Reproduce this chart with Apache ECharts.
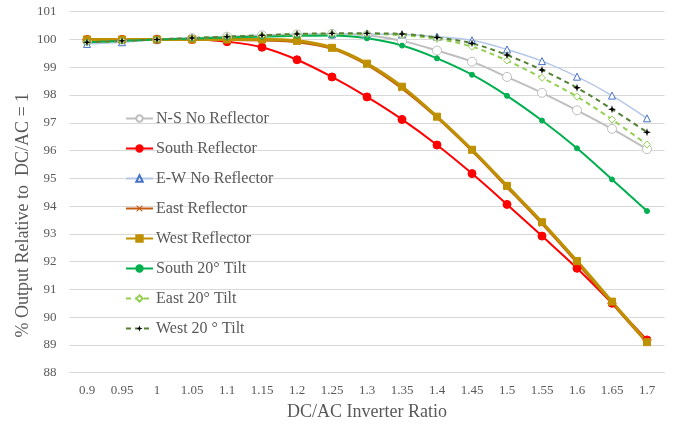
<!DOCTYPE html>
<html><head><meta charset="utf-8">
<script src="https://cdn.jsdelivr.net/npm/echarts@6/dist/echarts.min.js"></script>
<style>html,body{margin:0;padding:0;background:#fff}#c{width:676px;height:428px}</style>
</head><body><div id="c"></div>
<script>
var categories = ['0.9','0.95','1','1.05','1.1','1.15','1.2','1.25','1.3','1.35','1.4','1.45','1.5','1.55','1.6','1.65','1.7'];
var nsNoReflector   = [99.95,99.98,100,100.05,100.1,100.15,100.18,100.2,100.15,99.95,99.6,99.2,98.65,98.08,97.45,96.78,96.05];
var southReflector  = [100.0,100.0,100,100.0,99.92,99.72,99.27,98.65,97.93,97.12,96.2,95.17,94.06,92.92,91.76,90.5,89.18];
var ewNoReflector   = [99.84,99.9,100,100.05,100.08,100.12,100.15,100.18,100.2,100.18,100.1,99.97,99.64,99.22,98.66,97.98,97.16];
var eastReflector   = [100.0,100.0,100,100.0,100.0,99.98,99.92,99.68,99.1,98.25,97.2,96.0,94.7,93.38,91.98,90.52,89.1];
var westReflector   = [100.0,100.0,100,100.0,100.0,100.0,99.95,99.7,99.13,98.3,97.22,96.03,94.73,93.42,92.02,90.56,89.1];
var south20Tilt     = [99.9,99.95,100,100.03,100.07,100.1,100.13,100.14,100.04,99.78,99.32,98.73,97.97,97.08,96.08,94.96,93.82];
var east20Tilt      = [99.9,99.95,100,100.05,100.1,100.14,100.18,100.2,100.2,100.15,100.02,99.74,99.24,98.62,97.94,97.12,96.22];
var west20Tilt      = [99.9,99.95,100,100.05,100.1,100.15,100.2,100.22,100.22,100.2,100.07,99.86,99.44,98.9,98.26,97.49,96.66];
var yMin = 88, yMax = 101, yStep = 1;

var FONT = '"Liberation Serif", "DejaVu Serif", serif';
var TXT = '#595959';
var crossPath = 'path://M1,0 L5,4 L9,0 L10,1 L6,5 L10,9 L9,10 L5,6 L1,10 L0,9 L4,5 L0,1 Z';
var starPath = 'path://M5,0 L6.2,3.8 L10,5 L6.2,6.2 L5,10 L3.8,6.2 L0,5 L3.8,3.8 Z';

function mk(name, data, color, width, symbol, size, opts) {
  opts = opts || {};
  return {
    name: name, type: 'line', data: data, smooth: 0.35,
    symbol: symbol, symbolSize: size, showSymbol: true,
    lineStyle: { color: color, width: width, type: opts.dash ? [5, 4] : 'solid' },
    itemStyle: { color: opts.fill || color, borderColor: opts.border || color, borderWidth: opts.bw == null ? 1 : opts.bw },
    emphasis: { disabled: true },
    z: opts.z || 2
  };
}

var chart = echarts.init(document.getElementById('c'), null, { renderer: 'canvas' });
chart.setOption({
  animation: false,
  backgroundColor: '#fff',
  grid: { left: 69.5, right: 11.5, top: 11.7, bottom: 55.3 },
  legend: {
    orient: 'vertical', left: 120, top: 105,
    itemWidth: 27, itemHeight: 8, itemGap: 13,
    textStyle: { fontFamily: FONT, fontSize: 16, color: TXT, lineHeight: 17, padding: [0, 0, 0, -2] },
    data: ['N-S No Reflector','South Reflector','E-W No Reflector','East Reflector','West Reflector','South 20° Tilt','East 20° Tilt','West 20 ° Tilt']
  },
  xAxis: {
    type: 'category', data: categories, boundaryGap: true,
    axisLine: { show: true, lineStyle: { color: '#d9d9d9' } },
    axisTick: { show: false },
    axisLabel: { fontFamily: FONT, fontSize: 13, color: TXT, margin: 11, interval: 0 },
    name: 'DC/AC Inverter Ratio', nameLocation: 'middle', nameGap: 31,
    nameTextStyle: { fontFamily: FONT, fontSize: 18, color: TXT }
  },
  yAxis: {
    type: 'value', min: yMin, max: yMax, interval: yStep,
    axisLine: { show: false }, axisTick: { show: false },
    splitLine: { lineStyle: { color: '#d9d9d9', width: 1 } },
    axisLabel: { fontFamily: FONT, fontSize: 13, color: TXT, margin: 13 },
    name: '% Output Relative to  DC/AC = 1', nameLocation: 'middle', nameGap: 37,
    nameMoveOverlap: false,
    nameTextStyle: { fontFamily: FONT, fontSize: 18, color: TXT, padding: [0, 46, 0, 0] }
  },
  series: [
    mk('N-S No Reflector', nsNoReflector, '#bfbfbf', 2, 'circle', 9, { fill: '#ffffff', border: '#bfbfbf', bw: 1 }),
    mk('South Reflector', southReflector, '#ff0000', 2, 'circle', 8, {}),
    mk('E-W No Reflector', ewNoReflector, '#b4c7e7', 1.5, 'triangle', 7, { fill: '#ffffff', border: '#4472c4', bw: 1 }),
    mk('East Reflector', eastReflector, '#c55a11', 3, crossPath, 7, { fill: '#c55a11', border: '#c55a11', bw: 0 }),
    mk('West Reflector', westReflector, '#bf9000', 3, 'rect', 7, {}),
    mk('South 20° Tilt', south20Tilt, '#00b050', 2, 'circle', 5, {}),
    mk('East 20° Tilt', east20Tilt, '#92d050', 2, 'diamond', 7, { dash: true, fill: '#ffffff', border: '#92d050', bw: 1 }),
    mk('West 20 ° Tilt', west20Tilt, '#548235', 2, starPath, 8, { dash: true, fill: '#000000', border: '#000000', bw: 0 })
  ]
});
</script></body></html>
